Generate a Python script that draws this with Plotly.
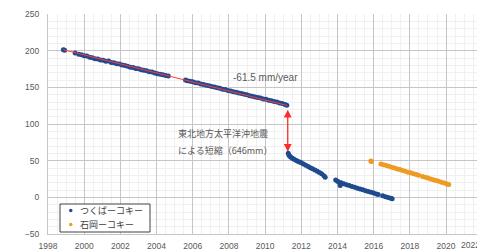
import plotly.graph_objects as go

# --- data ---
tsukuba_years = [
    1998.85, 1998.92, 1999.50, 1999.70, 1999.85, 2000.00, 2000.15, 2000.30, 2000.45, 2000.60,
    2000.75, 2000.90, 2001.05, 2001.20, 2001.35, 2001.50, 2001.65, 2001.80, 2001.95, 2002.10,
    2002.25, 2002.40, 2002.55, 2002.70, 2002.85, 2003.00, 2003.15, 2003.30, 2003.45, 2003.60,
    2003.75, 2003.90, 2004.05, 2004.20, 2004.35, 2004.50, 2004.65, 2005.60, 2005.70, 2005.85,
    2006.00, 2006.15, 2006.30, 2006.45, 2006.60, 2006.75, 2006.90, 2007.05, 2007.20, 2007.35,
    2007.50, 2007.65, 2007.80, 2007.95, 2008.10, 2008.25, 2008.40, 2008.55, 2008.70, 2008.85,
    2009.00, 2009.15, 2009.30, 2009.45, 2009.60, 2009.75, 2009.90, 2010.05, 2010.20, 2010.35,
    2010.50, 2010.65, 2010.80, 2010.95, 2011.10, 2011.20,
    2011.28, 2011.32, 2011.38, 2011.45, 2011.52, 2011.60, 2011.70, 2011.80, 2011.90, 2012.00,
    2012.12, 2012.25, 2012.38, 2012.50, 2012.62, 2012.75, 2012.88, 2013.00, 2013.12, 2013.25,
    2013.32,
    2013.90, 2014.00, 2014.08, 2014.15, 2014.20, 2014.35, 2014.50, 2014.65, 2014.80, 2014.95,
    2015.10, 2015.25, 2015.40, 2015.55, 2015.70, 2015.85, 2016.00, 2016.15, 2016.25,
    2016.50, 2016.65, 2016.80, 2016.95, 2017.02,
]
tsukuba_values = [
    201.2, 200.4, 196.8, 195.0, 194.3, 193.2, 192.6, 191.0, 190.4, 189.1,
    188.6, 187.2, 186.8, 185.4, 185.9, 184.0, 183.5, 182.0, 181.8, 180.3,
    179.9, 178.6, 177.5, 177.0, 175.8, 175.2, 174.0, 173.3, 172.5, 171.2,
    170.8, 169.5, 168.6, 167.9, 167.0, 166.0, 165.3, 159.9, 159.0, 158.4,
    157.6, 156.3, 155.9, 154.7, 153.8, 153.0, 152.1, 151.0, 150.5, 149.3,
    148.6, 147.5, 146.9, 145.8, 145.0, 144.0, 143.4, 142.2, 141.6, 140.4,
    139.8, 138.6, 138.0, 136.9, 136.0, 135.3, 134.2, 133.6, 132.4, 131.8,
    130.6, 129.9, 128.7, 128.1, 126.6, 125.5,
    60.0, 57.5, 55.8, 54.3, 53.0, 51.8, 50.5, 49.3, 48.2, 47.0,
    45.5, 43.8, 42.2, 40.5, 39.0, 37.3, 35.5, 33.8, 32.0, 29.5,
    27.5,
    23.5, 22.0, 20.5, 16.0, 19.8, 18.6, 17.2, 16.0, 14.8, 13.7,
    12.5, 11.3, 10.2, 9.1, 8.0, 6.9, 5.8, 4.6, 3.9,
    2.0, 0.9, -0.3, -1.2, -1.8,
]

ishioka_years = [
    2015.84, 2015.88, 2016.40, 2016.55, 2016.70, 2016.85, 2017.00, 2017.15, 2017.30, 2017.45,
    2017.60, 2017.75, 2017.90, 2018.05, 2018.20, 2018.35, 2018.48,
    2018.70, 2018.85, 2019.00, 2019.15, 2019.30, 2019.45, 2019.60, 2019.75, 2019.90,
    2020.05, 2020.15,
]
ishioka_values = [
    49.5, 48.8, 45.6, 44.6, 43.3, 42.3, 41.1, 40.0, 38.8, 37.8,
    36.5, 35.6, 34.3, 33.4, 32.1, 31.2, 30.2,
    28.4, 27.3, 26.2, 25.0, 24.0, 22.8, 21.8, 20.6, 19.5,
    18.3, 17.4,
]

trend_years = [1998.85, 2011.22]
trend_values = [201.3, 125.2]

quake_year = 2011.25
quake_before = 121.5
quake_after = 62.0

x_tick_vals = list(range(1998, 2022, 2))
y_tick_vals = [-50, 0, 50, 100, 150, 200, 250]

series_names = ["つくばーコキー", "石岡ーコキー"]
series_colors = ["#1F4A8F", "#EE9B23"]
rate_label = "-61.5 mm/year"
quake_label_1 = "東北地方太平洋沖地震"
quake_label_2 = "による短縮（646mm）"

# --- figure ---
XMIN, XMAX = 1998, 2021.71
W, H = 477, 250
ML, MR, MT, MB = 48, 0, 14, 16
PW, PH = W - ML - MR, H - MT - MB
grey_txt = "#595959"


def px_x(px):
    return (px - ML) / PW


def px_y(py):
    return (H - MB - py) / PH


fig = go.Figure()

fig.add_trace(go.Scatter(
    x=tsukuba_years, y=tsukuba_values, mode="markers", name=series_names[0],
    marker=dict(color=series_colors[0], size=5, line=dict(width=0)),
))
fig.add_trace(go.Scatter(
    x=ishioka_years, y=ishioka_values, mode="markers", name=series_names[1],
    marker=dict(color=series_colors[1], size=5, line=dict(width=0)),
))
fig.add_trace(go.Scatter(
    x=trend_years, y=trend_values, mode="lines", showlegend=False,
    line=dict(color="#FF3B3B", width=1), hoverinfo="skip",
))

fig.add_annotation(
    x=quake_year, y=quake_after, ax=quake_year, ay=quake_before,
    xref="x", yref="y", axref="x", ayref="y",
    showarrow=True, arrowhead=2, arrowside="end+start", arrowsize=1.2,
    arrowwidth=1.3, arrowcolor="#FF2A2A", text="",
)
fig.add_annotation(
    x=2010.0, y=164, xref="x", yref="y", text=rate_label, showarrow=False,
    font=dict(size=10, color=grey_txt, family="Liberation Sans"),
)
fig.add_annotation(
    x=2005.1, y=87.6, xref="x", yref="y", text=quake_label_1, showarrow=False,
    xanchor="left", font=dict(size=9, color=grey_txt, family="Noto Sans CJK JP"),
)
fig.add_annotation(
    x=2005.1, y=64.4, xref="x", yref="y", text=quake_label_2, showarrow=False,
    xanchor="left", font=dict(size=9, color=grey_txt, family="Noto Sans CJK JP"),
)
# partially visible 2022 tick label at the cropped right edge
fig.add_annotation(
    x=(2022 - XMIN) / (XMAX - XMIN), y=0, xref="paper", yref="paper",
    yanchor="top", yshift=-4, text="2022", showarrow=False,
    font=dict(size=8.5, color=grey_txt, family="Liberation Sans"),
)

# custom compact legend (box, markers, labels)
fig.add_shape(
    type="rect", xref="paper", yref="paper",
    x0=px_x(60), x1=px_x(150), y0=px_y(232), y1=px_y(204),
    line=dict(color="#404040", width=1), fillcolor="white", layer="above",
)
for i, (name, col) in enumerate(zip(series_names, series_colors)):
    cy = 210.5 + i * 14
    fig.add_shape(
        type="circle", xref="paper", yref="paper",
        x0=px_x(69), x1=px_x(72.5), y0=px_y(cy + 1.75), y1=px_y(cy - 1.75),
        line=dict(width=0), fillcolor=col, layer="above",
    )
    fig.add_annotation(
        x=px_x(78), y=px_y(cy), xref="paper", yref="paper", xanchor="left",
        yanchor="middle", text=name, showarrow=False,
        font=dict(size=9, color="#404040", family="Noto Sans CJK JP"),
    )

fig.update_xaxes(
    range=[XMIN, XMAX], tickvals=x_tick_vals, showgrid=True,
    gridcolor="#c6c6c6", gridwidth=1, zeroline=False,
    showline=True, linecolor="#c6c6c6", linewidth=1,
    tickfont=dict(size=8.5, color=grey_txt, family="Liberation Sans"),
    ticks="", ticklabelstandoff=4,
    minor=dict(dtick=0.5, showgrid=True, gridcolor="#f0f0f0", gridwidth=1),
)
fig.update_yaxes(
    range=[-50, 250], tickvals=y_tick_vals, showgrid=True,
    gridcolor="#c6c6c6", gridwidth=1, zeroline=False,
    showline=True, linecolor="#c6c6c6", linewidth=1,
    tickfont=dict(size=8.5, color=grey_txt, family="Liberation Sans"),
    ticks="", ticklabelstandoff=6,
    minor=dict(dtick=10, showgrid=True, gridcolor="#f0f0f0", gridwidth=1),
)

fig.update_layout(
    width=W, height=H,
    margin=dict(l=ML, r=MR, t=MT, b=MB, autoexpand=False),
    paper_bgcolor="white", plot_bgcolor="white",
    showlegend=False,
)

fig.write_html(
    "out.html",
    config={"displayModeBar": False},
    post_script="document.body.style.margin='0';",
)
